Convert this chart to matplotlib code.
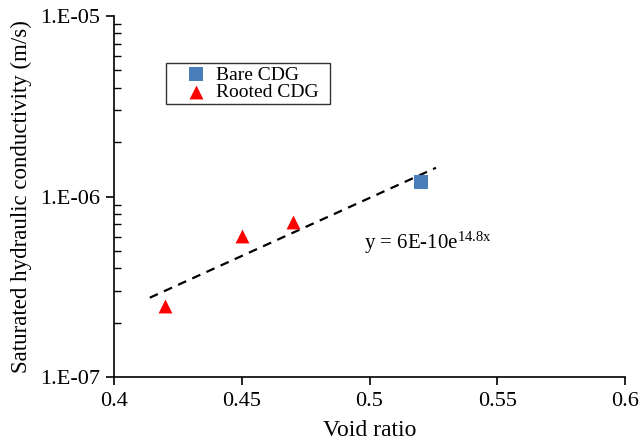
import numpy as np
import matplotlib
matplotlib.use("Agg")
import matplotlib.pyplot as plt
from matplotlib.ticker import LogLocator, FixedLocator, FuncFormatter

plt.rcParams['font.family'] = ['Liberation Serif', 'DejaVu Serif']
plt.rcParams['mathtext.fontset'] = 'custom'
plt.rcParams['mathtext.rm'] = 'Liberation Serif'
plt.rcParams['mathtext.default'] = 'regular'

# Data
bare_x = [0.52]
bare_y = [1.2e-6]
rooted_x = [0.42, 0.45, 0.47]
rooted_y = [2.47e-7, 6.05e-7, 7.22e-7]
fit_a = 6e-10
fit_b = 14.8
fit_range = [0.414, 0.526]
x_ticks = [0.4, 0.45, 0.5, 0.55, 0.6]
x_labels = ['0.4', '0.45', '0.5', '0.55', '0.6']
y_ticks = [1e-7, 1e-6, 1e-5]
y_labels = ['1.E-07', '1.E-06', '1.E-05']

fig = plt.figure(figsize=(6.41, 4.48), dpi=100)
ax = fig.add_axes([114/641, 1 - 377/448, 511/641, 361/448])

xf = np.linspace(fit_range[0], fit_range[1], 50)
ax.plot(xf, fit_a * np.exp(fit_b * xf), color='black', linestyle=(0, (4, 3)), linewidth=1.6, zorder=2)

ax.scatter(bare_x, bare_y, marker='s', s=115, color='#4a7ebb', label='Bare CDG', zorder=3, linewidths=0)
ax.scatter(rooted_x, rooted_y, marker='^', s=100, color='#ff0000', label='Rooted CDG', zorder=3, linewidths=0)

ax.set_yscale('log')
ax.set_xlim(0.4, 0.6)
ax.set_ylim(1e-7, 1e-5)

ax.xaxis.set_major_locator(FixedLocator(x_ticks))
ax.set_xticklabels(x_labels)
ax.yaxis.set_major_locator(FixedLocator(y_ticks))
ax.set_yticklabels(y_labels)
ax.yaxis.set_minor_locator(LogLocator(base=10, subs=np.arange(2, 10)))
ax.yaxis.set_minor_formatter(FuncFormatter(lambda v, p: ''))

for s in ['top', 'right']:
    ax.spines[s].set_visible(False)
for s in ['left', 'bottom']:
    ax.spines[s].set_linewidth(1.2)

ax.tick_params(axis='x', which='major', direction='out', length=6, width=1.2, labelsize=16, pad=5)
ax.tick_params(axis='y', which='major', direction='out', length=6, width=1.2, labelsize=16, pad=4)
ax.tick_params(axis='y', which='minor', direction='in', length=5, width=1.0)

ax.set_xlabel('Void ratio', fontsize=17, labelpad=6)
ax.set_ylabel('Saturated hydraulic conductivity (m/s)', fontsize=16.5, labelpad=6)

ax.text(0.498, 5.5e-7, 'y = 6E-10e$^{14.8x}$', fontsize=15, ha='left', va='center')

leg = ax.legend(loc='upper left', bbox_to_anchor=(52/511, 274/361, 164/511, 40/361), mode='expand',
                fontsize=14, frameon=True, fancybox=False, edgecolor='black',
                handlelength=2.8, handletextpad=-0.4, borderpad=0.15,
                labelspacing=0.0, scatterpoints=1, borderaxespad=0)
leg.get_frame().set_linewidth(1.0)

fig.savefig('out.png', dpi=100)
